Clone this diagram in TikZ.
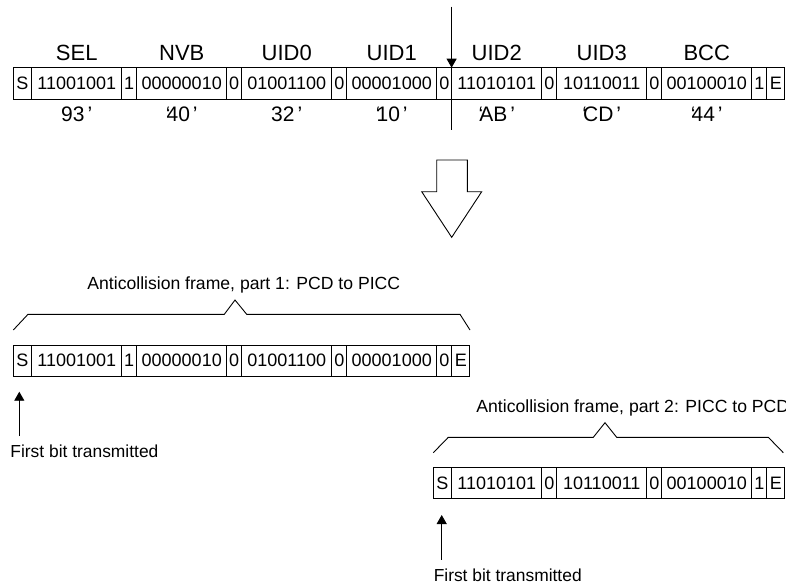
\documentclass[tikz,border=0pt]{standalone}
\usepackage{fontspec}
\setmainfont{Liberation Sans}
\usetikzlibrary{arrows.meta}

\begin{document}
\begin{tikzpicture}[x=1pt,y=-1pt,
  line width=0.9pt,
  cell/.style={draw, outer sep=0pt, inner sep=0pt, minimum height=31.5pt,
               anchor=north west, font=\fontsize{18}{22}\selectfont},
  sb/.style={cell, minimum width=18.3pt},
  db/.style={cell, minimum width=90.3pt},
  pb/.style={cell, minimum width=14.7pt},
  fieldname/.style={anchor=base, inner sep=0pt, font=\fontsize{22}{26}\selectfont},
  hexval/.style={anchor=base, inner sep=0pt, font=\fontsize{21}{25}\selectfont},
  caption/.style={anchor=base west, inner sep=0pt, font=\fontsize{17.6}{21}\selectfont},
  tipped/.style={-{Triangle[length=9pt,width=10pt]}}
]
\useasboundingbox (0,0) rectangle (786,586);

% ---- complete anticollision frame ----
\node[sb] (tS)   at (13.3,67.7) {S};
\node[db] (tSEL) at (tS.north east)   {11001001};
\node[pb] (tP1)  at (tSEL.north east) {1};
\node[db] (tNVB) at (tP1.north east)  {00000010};
\node[pb] (tP2)  at (tNVB.north east) {0};
\node[db] (tU0)  at (tP2.north east)  {01001100};
\node[pb] (tP3)  at (tU0.north east)  {0};
\node[db] (tU1)  at (tP3.north east)  {00001000};
\node[pb] (tP4)  at (tU1.north east)  {0};
\node[db] (tU2)  at (tP4.north east)  {11010101};
\node[pb] (tP5)  at (tU2.north east)  {0};
\node[db] (tU3)  at (tP5.north east)  {10110011};
\node[pb] (tP6)  at (tU3.north east)  {0};
\node[db] (tBCC) at (tP6.north east)  {00100010};
\node[pb] (tP7)  at (tBCC.north east) {1};
\node[sb] (tE)   at (tP7.north east)  {E};

% field names and hex values
\coordinate (yName) at (0,60);
\coordinate (yHex)  at (0,121.7);
\node[fieldname] (nSEL) at (tSEL |- yName) {SEL};
\node[fieldname] (nNVB) at (tNVB |- yName) {NVB};
\node[fieldname] (nU0)  at (tU0 |- yName)  {UID0};
\node[fieldname] (nU1)  at (tU1 |- yName)  {UID1};
\node[fieldname] (nU2)  at (tU2 |- yName)  {UID2};
\node[fieldname] (nU3)  at (tU3 |- yName)  {UID3};
\node[fieldname] (nBCC) at (tBCC |- yName) {BCC};

\node[hexval] (hSEL) at (tSEL |- yHex) {93\kern3pt’};
\node[hexval] (hNVB) at (tNVB |- yHex) {‘\kern-4pt40\kern3pt’};
\node[hexval] (hU0)  at (tU0 |- yHex)  {32\kern3pt’};
\node[hexval] (hU1)  at (tU1 |- yHex)  {‘\kern-4pt10\kern3pt’};
\node[hexval] (hU2)  at (tU2 |- yHex)  {‘\kern-4ptAB\kern3pt’};
\node[hexval] (hU3)  at (tU3 |- yHex)  {‘\kern-4ptCD\kern3pt’};
\node[hexval] (hBCC) at (tBCC |- yHex) {‘\kern-4pt44\kern3pt’};

% split position
\coordinate (cutTop) at (tP4.north east |- 0,6.7);
\coordinate (cutBot) at (tP4.north east |- 0,130);
\draw[tipped] (cutTop) -- (tP4.north east);
\draw (tP4.north east) -- (cutBot);

% block arrow
\draw (436.7,160) -- (467.3,160) -- (467.3,191.7) -- (481.7,191.7)
      -- (451.7,237.3) -- (421.7,191.7) -- (436.7,191.7) -- cycle;

% ---- part 1: PCD to PICC ----
\node[sb] (aS)   at (13.3,345) {S};
\node[db] (aSEL) at (aS.north east)   {11001001};
\node[pb] (aP1)  at (aSEL.north east) {1};
\node[db] (aNVB) at (aP1.north east)  {00000010};
\node[pb] (aP2)  at (aNVB.north east) {0};
\node[db] (aU0)  at (aP2.north east)  {01001100};
\node[pb] (aP3)  at (aU0.north east)  {0};
\node[db] (aU1)  at (aP3.north east)  {00001000};
\node[pb] (aP4)  at (aU1.north east)  {0};
\node[sb] (aE)   at (aP4.north east)  {E};

\draw (13.3,330) -- (28,314.3) -- (224.3,314.3) -- (235,300) -- (246.7,314.3)
      -- (460,314.3) -- (470,330);
\node[caption] (capA) at (87,289.3) {Anticollision frame, part 1: PCD to PICC};

\node[caption, font=\fontsize{17.4}{21}\selectfont] (firstA) at (10,457.3) {First bit transmitted};
\coordinate (tipA) at (19.3,391.7);
\draw[tipped, shorten <=8pt] (firstA.north -| tipA) -- (tipA);

% ---- part 2: PICC to PCD ----
\node[sb] (bS)   at (433.3,467.3) {S};
\node[db] (bU2)  at (bS.north east)   {11010101};
\node[pb] (bP1)  at (bU2.north east)  {0};
\node[db] (bU3)  at (bP1.north east)  {10110011};
\node[pb] (bP2)  at (bU3.north east)  {0};
\node[db] (bBCC) at (bP2.north east)  {00100010};
\node[pb] (bP3)  at (bBCC.north east) {1};
\node[sb] (bE)   at (bP3.north east)  {E};

\draw (433.3,452.7) -- (448.3,437.3) -- (593.3,437.3) -- (605,422.7) -- (616.7,437.3)
      -- (768.3,437.3) -- (783.3,452.7);
\node[caption] (capB) at (476,412.3) {Anticollision frame, part 2: PICC to PCD};

\node[caption, font=\fontsize{17.4}{21}\selectfont] (firstB) at (433.3,581) {First bit transmitted};
\coordinate (tipB) at (441.7,515);
\draw[tipped, shorten <=8pt] (firstB.north -| tipB) -- (tipB);
\end{tikzpicture}
\end{document}
